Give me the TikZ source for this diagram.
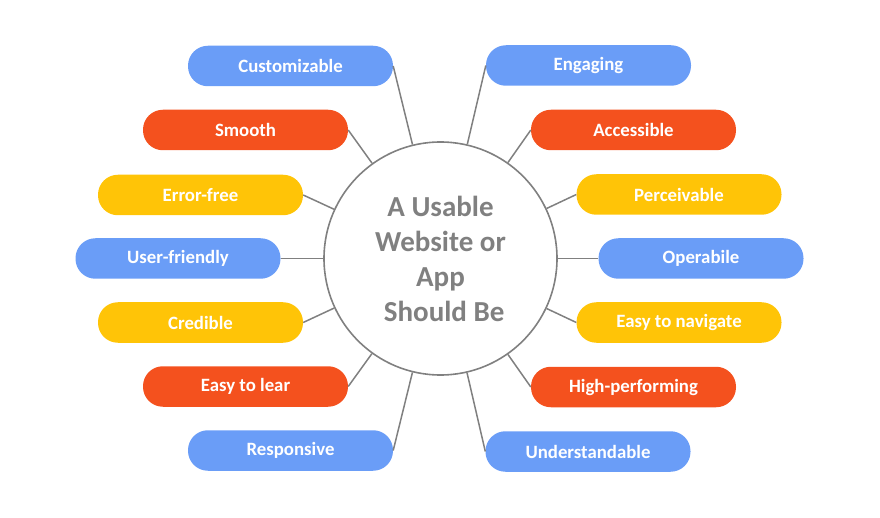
\documentclass[tikz,border=0pt]{standalone}
\usepackage{fontspec}
\setmainfont{Carlito}
\usepackage{xcolor}
\usepackage{tikz}
\usetikzlibrary{positioning, calc}

\definecolor{pillblue}{HTML}{6A9DF7}
\definecolor{pillred}{HTML}{F4511E}
\definecolor{pillyellow}{HTML}{FFC407}
\definecolor{linegray}{HTML}{808080}

\begin{document}
\begin{tikzpicture}[x=1pt, y=-1pt,
        pill/.style={rectangle, rounded corners=19.9pt, minimum width=205pt, minimum height=40.5pt,
            inner sep=0pt, text=white, font=\fontsize{18.8}{22}\selectfont\bfseries},
        bluepill/.style={pill, fill=pillblue},
        redpill/.style={pill, fill=pillred},
        yellowpill/.style={pill, fill=pillyellow},
        hub/.style={circle, draw=linegray, line width=1.6pt, minimum size=233pt, inner sep=0pt,
            text=linegray, align=center, font=\fontsize{29}{35}\selectfont\bfseries},
        spoke/.style={draw=linegray, line width=1.5pt}]
        \useasboundingbox (0,0) rectangle (880,518);

        \node[hub] (usable) at (440.5,258.5) {A Usable\\Website or\\App\\\hspace*{0.25em}Should Be};

        % left side
        \node[bluepill] (cust) at (290.5,66) {Customizable};
        \node[redpill] (smooth) at (245.5,130) {Smooth};
        \node[yellowpill] (errfree) at (200.5,195) {Error-free};
        \node[bluepill] (userfr) at (178,258.5) {User-friendly};
        \node[yellowpill] (cred) at (200.5,322.5) {Credible};
        \node[redpill] (easylear) at (245.5,386.5) {Easy to lear};
        \node[bluepill] (resp) at (290.5,450.5) {Responsive};

        % right side
        \node[bluepill] (engag) at (588.5,65.5) {Engaging};
        \node[redpill] (access) at (633.5,130) {Accessible};
        \node[yellowpill] (perceiv) at (679,194.5) {Perceivable};
        \node[bluepill] (operab) at (701,258.5) {Operabile};
        \node[yellowpill] (easynav) at (679,322.5) {Easy to navigate};
        \node[redpill] (highperf) at (633.5,387) {High-performing};
        \node[bluepill] (underst) at (588,451.5) {Understandable};

        \draw[spoke] (cust.east) -- (usable);
        \draw[spoke] (smooth.east) -- (usable);
        \draw[spoke] (errfree.east) -- (usable);
        \draw[spoke] (userfr.east) -- (usable);
        \draw[spoke] (cred.east) -- (usable);
        \draw[spoke] (easylear.east) -- (usable);
        \draw[spoke] (resp.east) -- (usable);

        \draw[spoke] (engag.west) -- (usable);
        \draw[spoke] (access.west) -- (usable);
        \draw[spoke] (perceiv.west) -- (usable);
        \draw[spoke] (operab.west) -- (usable);
        \draw[spoke] (easynav.west) -- (usable);
        \draw[spoke] (highperf.west) -- (usable);
        \draw[spoke] (underst.west) -- (usable);
    \end{tikzpicture}
\end{document}
